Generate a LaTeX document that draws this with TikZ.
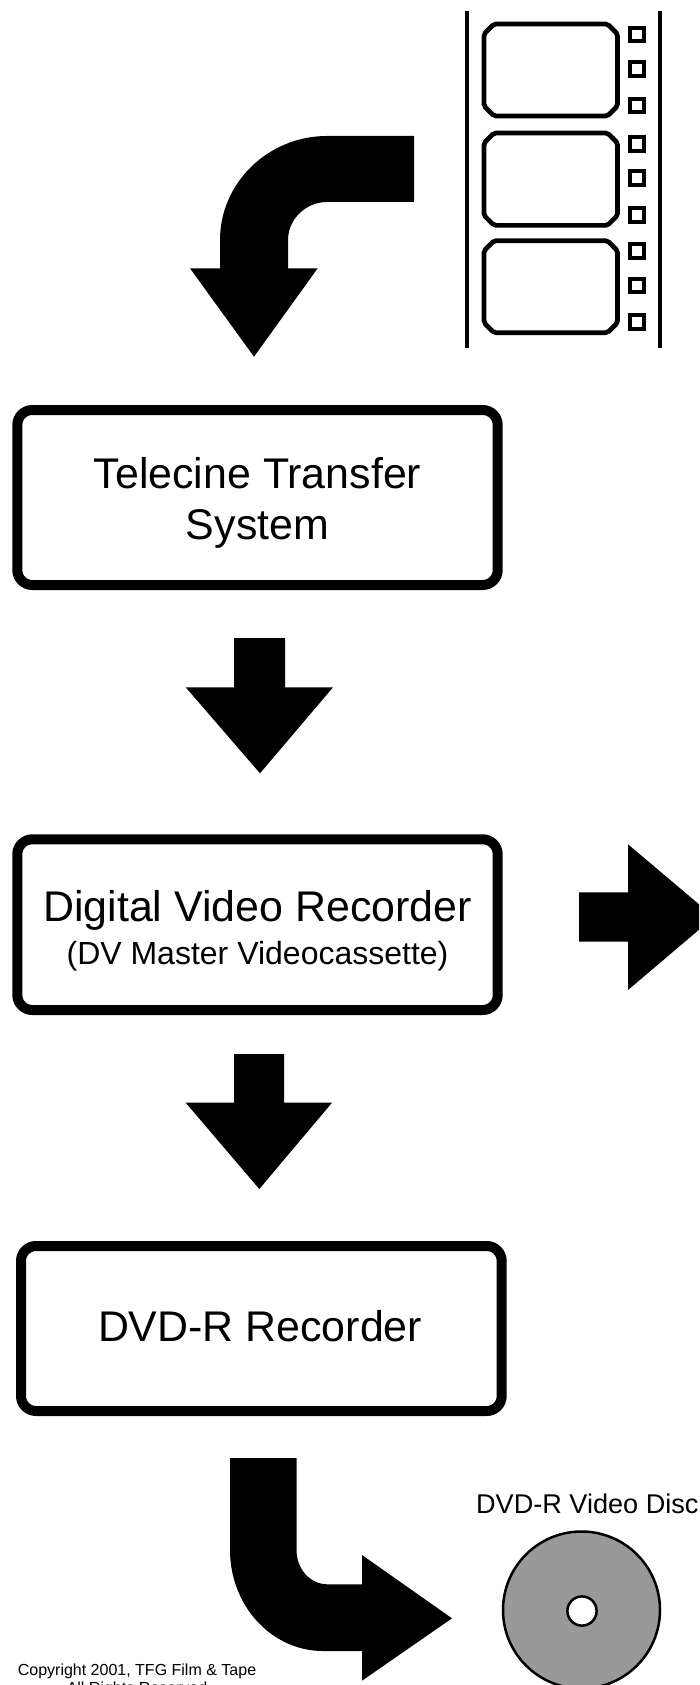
\documentclass[tikz,border=0pt]{standalone}
\usepackage{fontspec}
\setmainfont{Liberation Sans}
\tikzset{
  blockarrow/.style={fill=black,draw=none},
  procbox/.style={draw=black,fill=white,line width=10pt,rounded corners=15pt,inner sep=0pt,outer sep=0pt,align=center,font=\fontsize{42.9}{50}\selectfont},
  filmedge/.style={draw=black,line width=4pt},
  filmframe/.style={draw=black,line width=4.7pt,rounded corners=2pt},
  sprocket/.style={draw=black,line width=4pt},
  disclabel/.style={inner sep=0pt,anchor=base,font=\fontsize{27.1}{30}\selectfont},
  copytext/.style={inner sep=0pt,anchor=base,font=\fontsize{16}{18}\selectfont}
}
\newcommand{\filmcell}[2]{\draw[filmframe] (494,#1) -- (607.5,#1) -- (617.5,{#1+10}) -- (617.5,{#2-10}) -- (607.5,#2) -- (494,#2) -- (484,{#2-10}) -- (484,{#1+10}) -- cycle;}
\newcommand{\filmhole}[1]{\draw[sprocket] (630.3,{#1+2}) rectangle (644,{#1+15.7});}
\begin{document}
\begin{tikzpicture}[x=1pt,y=-1pt]
\useasboundingbox (0,0) rectangle (699,1685);
\fill[white] (0,0) rectangle (699,1685);
\begin{scope}
\clip (0,0) rectangle (699,1685);
% film strip
\draw[filmedge] (467.3,11) -- (467.3,347.7);
\draw[filmedge] (660.3,11) -- (660.3,347.7);
\filmcell{24}{116}
\filmcell{133}{225.4}
\filmcell{240.7}{332.7}
\filmhole{25.7}\filmhole{60}\filmhole{96.7}
\filmhole{135}\filmhole{169.3}\filmhole{206}
\filmhole{242.3}\filmhole{276.7}\filmhole{313.3}
% top bent arrow
\path[blockarrow] (414,136) -- (327,136) .. controls (268,136) and (220,183) .. (220,240) -- (220,268.3) -- (190,268.3) -- (254,356.7) -- (317.7,268.3) -- (288,268.3) -- (288,240) .. controls (288,219) and (306,202) .. (327,202) -- (414,202) -- cycle;
% boxes
\node[procbox,minimum width=480.4pt,minimum height=175pt] (telecine) at (257.5,497.5) {\rule{0pt}{46pt}Telecine Transfer\\[1pt]System\rule[-13.4pt]{0pt}{13.4pt}};
\node[procbox,minimum width=480.4pt,minimum height=170.7pt] (dvrec) at (257.5,924.65) {\rule{0pt}{48.3pt}Digital Video Recorder\\[-7.3pt]{\fontsize{32}{36}\selectfont (DV Master Videocassette)\rule[-11.6pt]{0pt}{11.6pt}}};
\node[procbox,minimum width=480.7pt,minimum height=165pt,text height=30pt,text depth=5pt] (dvdrec) at (261.35,1328.5) {DVD-R Recorder\hspace*{2.5pt}};
% straight arrows
\path[blockarrow] (234,638) -- (285,638) -- (285,687.3) -- (333,687.3) -- (260,773.3) -- (185.7,687.3) -- (234,687.3) -- cycle;
\path[blockarrow] (234,1054) -- (284,1054) -- (284,1102.7) -- (332,1102.7) -- (259.3,1189) -- (185.7,1102.7) -- (234,1102.7) -- cycle;
\path[blockarrow] (579,892.3) -- (628,892.3) -- (628,844.3) -- (714,917) -- (628,990) -- (628,941.7) -- (579,941.7) -- cycle;
% bottom bent arrow
\path[blockarrow] (230,1458) -- (296.5,1458) -- (296.5,1550) .. controls (296.5,1569) and (310,1584.3) .. (327.7,1584.3) -- (362,1584.3) -- (362,1555) -- (452,1618.3) -- (362,1680.7) -- (362,1651) -- (323,1651) .. controls (272,1651) and (230,1606) .. (230,1550) -- cycle;
% disc
\node[circle,draw=black,fill=black!40,line width=2.5pt,minimum size=157pt,inner sep=0pt] (disc) at (581.5,1610) {};
\node[circle,draw=black,fill=white,line width=2.5pt,minimum size=29.2pt,inner sep=0pt] (hole) at (582,1611) {};
\node[disclabel] (disclabel) at (587.3,1513.3) {DVD-R Video Disc};
\node[copytext] (copy1) at (137,1675) {Copyright 2001, TFG Film \& Tape};
\node[copytext] (copy2) at (137,1693) {All Rights Reserved};
\end{scope}
\end{tikzpicture}
\end{document}
